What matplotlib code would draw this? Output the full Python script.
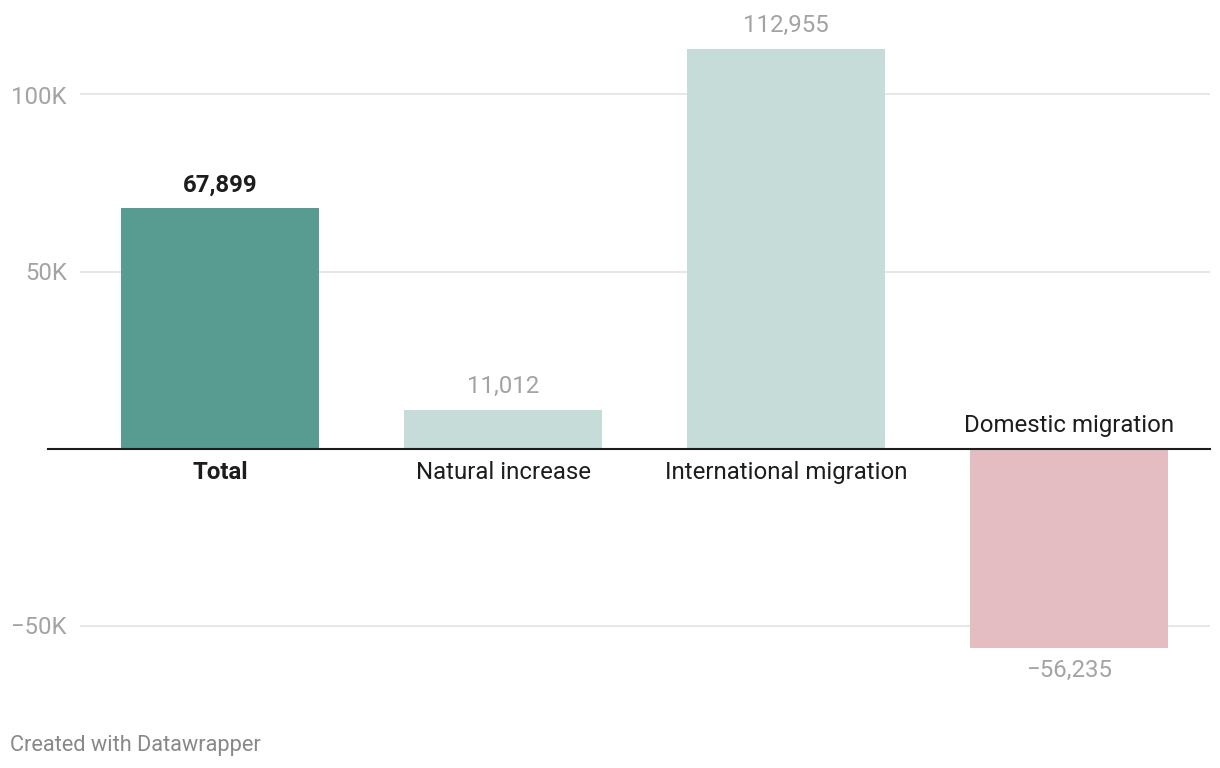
import matplotlib.pyplot as plt
from matplotlib.lines import Line2D

plt.rcParams['font.family'] = ['Roboto', 'DejaVu Sans']

# data
categories = ['Total', 'Natural increase', 'International migration', 'Domestic migration']
values = [67899, 11012, 112955, -56235]
bar_colors = ['#589b91', '#c6dcd9', '#c6dcd9', '#e4bdc2']
tick_values = [-50000, 50000, 100000]
tick_labels = ['\u221250K', '50K', '100K']

W, H = 1220, 768
fig = plt.figure(figsize=(W / 100, H / 100), dpi=100)

# axes placed in pixel coordinates
left, right, top, bottom = 80, 1210, 20, 700
zero_px = 448.5
ax = fig.add_axes([left / W, 1 - bottom / H, (right - left) / W, (bottom - top) / H])

px_per_unit = 354 / 100000
ax.set_ylim(-(bottom - zero_px) / px_per_unit, (zero_px - top) / px_per_unit)
ax.set_xlim(-0.4947, 3.498)

x = range(len(categories))
ax.bar(x, values, width=0.7, color=bar_colors, zorder=2)

# grid lines
for t in tick_values:
    ax.axhline(t, color='#e3e3e3', lw=1.2, zorder=1)

# zero baseline (extends a bit left of the grid)
ax.add_line(Line2D([-(80 - 48) / (right - left), 1], [0, 0], transform=ax.get_yaxis_transform(),
                   color='#1d1d1d', lw=1.5, clip_on=False, zorder=3))

ax.set_yticks(tick_values)
ax.set_yticklabels(tick_labels)
ax.tick_params(axis='y', length=0, pad=9.5, labelsize=17.2, labelcolor='#a3a3a3')
ax.set_xticks([])
for s in ax.spines.values():
    s.set_visible(False)

# value and category labels
fs = 17.3
for i, (cat, v) in enumerate(zip(categories, values)):
    bold = 'bold' if i == 0 else 'normal'
    vcol = '#1d1d1d' if i == 0 else '#a3a3a3'
    vtxt = f'{v:,}'.replace('-', '\u2212')
    if v >= 0:
        ax.annotate(vtxt, (i, v), xytext=(0, 23), textcoords='offset pixels',
                    ha='center', va='center', fontsize=fs, color=vcol, fontweight=bold)
        ax.annotate(cat, (i, 0), xytext=(0, -24), textcoords='offset pixels',
                    ha='center', va='center', fontsize=fs, color='#1d1d1d', fontweight=bold)
    else:
        ax.annotate(vtxt, (i, v), xytext=(0, -23), textcoords='offset pixels',
                    ha='center', va='center', fontsize=fs, color=vcol, fontweight=bold)
        ax.annotate(cat, (i, 0), xytext=(0, 23), textcoords='offset pixels',
                    ha='center', va='center', fontsize=fs, color='#1d1d1d', fontweight=bold)

fig.text(10 / W, 1 - 745 / H, 'Created with Datawrapper', ha='left', va='center',
         fontsize=15.7, color='#888888')

fig.savefig('out.png', dpi=100)
